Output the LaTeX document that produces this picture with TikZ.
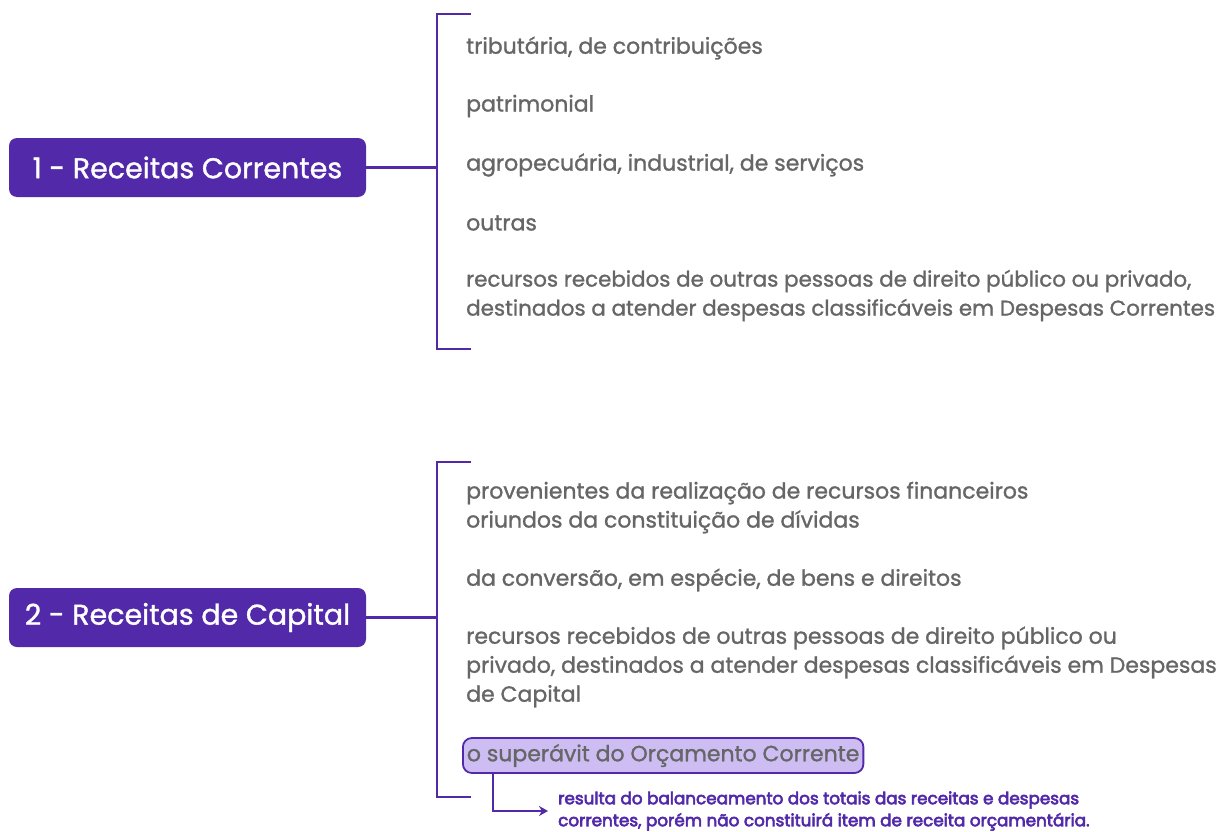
\documentclass[tikz,border=0pt]{standalone}
\usepackage{fontspec}
\setmainfont{Poppins}
\newfontfamily\medf{Poppins}[FakeBold=1.2]
\newfontfamily\semif{Poppins}[FakeBold=3.5]
\usetikzlibrary{arrows.meta}
\definecolor{purp}{HTML}{5229A9}
\definecolor{txt}{HTML}{666666}
\definecolor{lav}{HTML}{CDBDF3}
\tikzset{
  x=1pt,y=-1pt,
  mainbox/.style={fill=purp,text=white,rounded corners=8pt,minimum width=357pt,minimum height=59pt,inner sep=0pt,font=\medf\fontsize{28.5}{32}\selectfont},
  item/.style={anchor=west,inner sep=0pt,align=left,text=txt,font=\medf\fontsize{22}{29}\selectfont},
  link/.style={draw=purp,line width=2.5pt},
  hl/.style={item,fill=lav,draw=purp,line width=1.8pt,rounded corners=9pt,inner xsep=4pt,minimum height=35pt},
  note/.style={anchor=west,inner sep=0pt,align=left,text=purp,font=\semif\fontsize{16.8}{22}\selectfont}
}
\begin{document}
\begin{tikzpicture}
\useasboundingbox (0,0) rectangle (1228,832);
% group 1
\node[mainbox] (r1) at (187.5,167.5) {1 - Receitas Correntes};
\coordinate (b1) at (437,167.5);
\coordinate (b1t) at (437,14);
\coordinate (b1b) at (437,349);
\draw[link] (r1.east) -- (b1);
\draw[link] ([xshift=34pt]b1t) -- (b1t) -- (b1b) -- ([xshift=34pt]b1b);
\node[item] (a1) at (466,48) {tributária, de contribuições};
\node[item] (a2) at (466,106) {patrimonial};
\node[item] (a3) at (466,165) {agropecuária, industrial, de serviços};
\node[item] (a4) at (466,223) {outras};
\node[item,font=\medf\fontsize{21.4}{29}\selectfont] (a5) at (466,295.5) {recursos recebidos de outras pessoas de direito público ou privado,\\destinados a atender despesas classificáveis em Despesas Correntes};
% group 2
\node[mainbox] (r2) at (187.5,617.5) {2 - Receitas de Capital};
\coordinate (b2) at (437,617.5);
\coordinate (b2t) at (437,462);
\coordinate (b2b) at (437,797);
\draw[link] (r2.east) -- (b2);
\draw[link] ([xshift=34pt]b2t) -- (b2t) -- (b2b) -- ([xshift=34pt]b2b);
\node[item] (c1) at (466,507.5) {provenientes da realização de recursos financeiros\\oriundos da constituição de dívidas};
\node[item] (c2) at (466,580) {da conversão, em espécie, de bens e direitos};
\node[item] (c3) at (466,667) {recursos recebidos de outras pessoas de direito público ou\\privado, destinados a atender despesas classificáveis em Despesas\\de Capital};
\node[hl] (c4) at (462,755.5) {o superávit do Orçamento Corrente};
\node[note] (n1) at (558,811) {resulta do balanceamento dos totais das receitas e despesas\\correntes, porém não constituirá item de receita orçamentária.};
\coordinate (s) at (493,773);
\draw[draw=purp,line width=2.2pt,-{Stealth[length=9pt,width=10pt]}] (s) |- ([xshift=-10pt]n1.west);
\end{tikzpicture}
\end{document}
